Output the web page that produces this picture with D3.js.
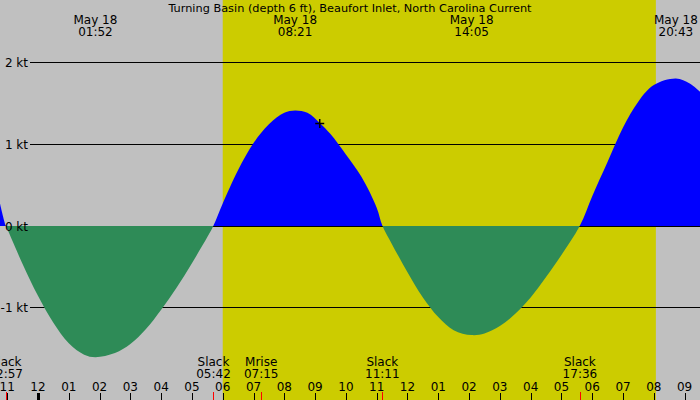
<!DOCTYPE html>
<html>
<head>
<meta charset="utf-8">
<script src="https://cdn.jsdelivr.net/npm/d3@7"></script>
<style>
    body { margin: 0; }
    svg { display: block; font-family: "DejaVu Sans", sans-serif; }
</style>
</head>
<body>
<div id="chart"></div>
<script>
// current speed (kt), flood positive, ebb negative
const curveTimes = [
    "05-17 22:46", "05-17 22:57", "05-17 23:00", "05-17 23:30",
    "05-18 00:00", "05-18 00:30", "05-18 01:00", "05-18 01:30", "05-18 01:52",
    "05-18 02:30", "05-18 03:00", "05-18 03:30", "05-18 04:00",
    "05-18 04:30", "05-18 05:00", "05-18 05:30", "05-18 05:42", "05-18 06:00",
    "05-18 06:30", "05-18 07:00", "05-18 07:30", "05-18 08:00", "05-18 08:21",
    "05-18 08:45", "05-18 09:10", "05-18 09:30", "05-18 10:00", "05-18 10:30",
    "05-18 11:00", "05-18 11:11", "05-18 11:30", "05-18 12:00", "05-18 12:30",
    "05-18 13:00", "05-18 13:30", "05-18 14:05", "05-18 14:30", "05-18 15:00",
    "05-18 15:30", "05-18 16:00", "05-18 16:30", "05-18 17:00", "05-18 17:36",
    "05-18 18:00", "05-18 18:30", "05-18 19:00", "05-18 19:30", "05-18 20:00",
    "05-18 20:43", "05-18 21:10", "05-18 21:30"
];
const curveSpeeds = [
    0.27, 0.00, -0.04, -0.47,
    -0.86, -1.19, -1.44, -1.58, -1.61,
    -1.56, -1.45, -1.27, -1.03,
    -0.76, -0.46, -0.14, 0.00, 0.27,
    0.68, 1.01, 1.24, 1.38, 1.41,
    1.38, 1.25, 1.12, 0.87, 0.60,
    0.22, 0.00, -0.23, -0.57, -0.88,
    -1.12, -1.28, -1.34, -1.32, -1.23,
    -1.08, -0.88, -0.63, -0.36, 0.00,
    0.36, 0.78, 1.20, 1.52, 1.72,
    1.80, 1.74, 1.64
];

const slackTimes = ["05-17 22:57", "05-18 05:42", "05-18 11:11", "05-18 17:36"];
const maxTimes = ["05-18 01:52", "05-18 08:21", "05-18 14:05", "05-18 20:43"];
const moonriseTimes = ["05-18 07:15"];
const sunrise = "05-18 06:00";
const sunset = "05-18 20:04";
const speedTicks = [-1, 0, 1, 2];
const nowTime = "05-18 09:09";
const nowSpeed = 1.25;

const title = "Turning Basin (depth 6 ft), Beaufort Inlet, North Carolina Current";

const parse = d3.timeParse("%m-%d %H:%M");
const width = 700, height = 400;

const x = d3.scaleTime()
    .domain([parse("05-17 22:46"), parse("05-18 21:30")])
    .range([0, width]);
const y = d3.scaleLinear()
    .domain([-1, 2])
    .range([307.3, 62.2]);

const data = curveTimes.map((t, i) => ({t: parse(t), v: curveSpeeds[i]}));

const svg = d3.select("#chart").append("svg")
    .attr("width", width)
    .attr("height", height);

// night / day background
svg.append("rect")
    .attr("width", width)
    .attr("height", height)
    .attr("fill", "#c0c0c0");
svg.append("rect")
    .attr("x", x(parse(sunrise)))
    .attr("width", x(parse(sunset)) - x(parse(sunrise)))
    .attr("height", height)
    .attr("fill", "#cccc00");

// grid lines sit under the fills
const row = v => Math.round(y(v)) + 0.5;
svg.selectAll(".grid")
    .data(speedTicks)
    .enter()
    .append("line")
    .attr("class", "grid")
    .attr("x1", 30)
    .attr("x2", width)
    .attr("y1", row)
    .attr("y2", row)
    .attr("stroke", "black")
    .attr("stroke-width", 1);

const zeroRow = Math.round(y(0));
const defs = svg.append("defs");
defs.append("clipPath").attr("id", "floodClip")
    .append("rect").attr("x", 0).attr("y", 0).attr("width", width).attr("height", zeroRow);
defs.append("clipPath").attr("id", "ebbClip")
    .append("rect").attr("x", 0).attr("y", zeroRow).attr("width", width).attr("height", height - zeroRow);

const area = d3.area()
    .x(d => x(d.t))
    .y0(zeroRow)
    .y1(d => y(d.v))
    .curve(d3.curveCatmullRom.alpha(0.5));

svg.append("path")
    .datum(data)
    .attr("d", area)
    .attr("fill", "#0000ff")
    .attr("clip-path", "url(#floodClip)");
svg.append("path")
    .datum(data)
    .attr("d", area)
    .attr("fill", "#2e8b57")
    .attr("clip-path", "url(#ebbClip)");

// speed labels
svg.selectAll(".ylab")
    .data(speedTicks)
    .enter()
    .append("text")
    .attr("class", "ylab")
    .attr("x", 28)
    .attr("y", row)
    .attr("dy", "0.35em")
    .attr("text-anchor", "end")
    .attr("font-size", 12)
    .text(d => d + " kt");

// title
svg.append("text")
    .attr("x", width / 2)
    .attr("y", 12)
    .attr("text-anchor", "middle")
    .attr("font-size", 11.3)
    .text(title);

// max current labels on top
const fmtDay = d3.timeFormat("%b %d");
const fmtTime = d3.timeFormat("%H:%M");
const tops = svg.selectAll(".maxlab")
    .data(maxTimes.map(parse))
    .enter()
    .append("g")
    .attr("class", "maxlab");
tops.append("text")
    .attr("x", d => x(d))
    .attr("y", 24)
    .attr("text-anchor", "middle")
    .attr("font-size", 12)
    .text(fmtDay);
tops.append("text")
    .attr("x", d => x(d))
    .attr("y", 36)
    .attr("text-anchor", "middle")
    .attr("font-size", 12)
    .text(fmtTime);

// slack and moonrise events at the bottom
const events = slackTimes.map(t => ({t: parse(t), name: "Slack"}))
    .concat(moonriseTimes.map(t => ({t: parse(t), name: "Mrise"})));
const evs = svg.selectAll(".event")
    .data(events)
    .enter()
    .append("g")
    .attr("class", "event");
evs.append("text")
    .attr("x", d => x(d.t))
    .attr("y", 366)
    .attr("text-anchor", "middle")
    .attr("font-size", 12)
    .text(d => d.name);
evs.append("text")
    .attr("x", d => x(d.t))
    .attr("y", 378)
    .attr("text-anchor", "middle")
    .attr("font-size", 12)
    .text(d => fmtTime(d.t));

// hour axis
const hours = x.ticks(d3.timeHour.every(1));
const fmtHour = d3.timeFormat("%I");
svg.selectAll(".hourlab")
    .data(hours)
    .enter()
    .append("text")
    .attr("class", "hourlab")
    .attr("x", d => x(d))
    .attr("y", 391)
    .attr("text-anchor", "middle")
    .attr("font-size", 12)
    .text(fmtHour);
svg.selectAll(".hourtick")
    .data(hours)
    .enter()
    .append("line")
    .attr("class", "hourtick")
    .attr("x1", d => Math.round(x(d)) + 0.5)
    .attr("x2", d => Math.round(x(d)) + 0.5)
    .attr("y1", 393)
    .attr("y2", height)
    .attr("stroke", "black")
    .attr("stroke-width", d => d.getHours() === 0 ? 3 : 1);
svg.selectAll(".evtick")
    .data(events)
    .enter()
    .append("line")
    .attr("class", "evtick")
    .attr("x1", d => Math.round(x(d.t)) + 0.5)
    .attr("x2", d => Math.round(x(d.t)) + 0.5)
    .attr("y1", 392)
    .attr("y2", height)
    .attr("stroke", "red")
    .attr("stroke-width", 1);

// current time marker
const nx = x(parse(nowTime)), ny = y(nowSpeed);
svg.append("path")
    .attr("d", `M${nx - 4.5},${ny}H${nx + 4.5}M${nx},${ny - 4.5}V${ny + 4.5}`)
    .attr("stroke", "black")
    .attr("stroke-width", 1.5)
    .attr("fill", "none");
</script>
</body>
</html>
